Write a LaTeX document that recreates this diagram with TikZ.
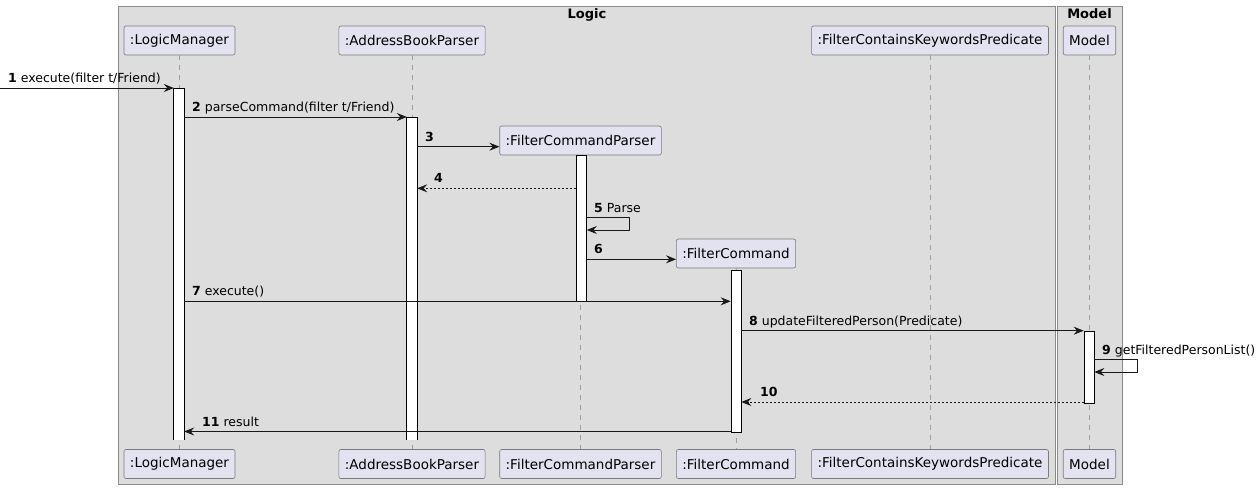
\documentclass[tikz,border=0pt]{standalone}
\usepackage{fontspec}
\setmainfont{DejaVu Sans}
\usetikzlibrary{arrows.meta}
\definecolor{partc}{HTML}{E2E2F0}
\definecolor{frmc}{HTML}{DDDDDD}
\definecolor{frmd}{HTML}{8A8A8A}
\definecolor{partd}{HTML}{7A7A7A}
\begin{document}
\begin{tikzpicture}[x=1pt,y=-1pt,
  part/.style={draw=partd, fill=partc, rounded corners=2pt, minimum height=29pt, inner xsep=6pt, font=\fontsize{13.5}{16}\selectfont, line width=0.6pt},
  frame/.style={draw=frmd, fill=frmc, line width=1pt},
  ftitle/.style={font=\bfseries\fontsize{13}{16}\selectfont, inner sep=0pt, anchor=base},
  act/.style={draw=black, fill=white, minimum width=10pt, inner sep=0pt, anchor=north, line width=0.7pt},
  openact/.style={fill=white, minimum width=10pt, inner sep=0pt, anchor=north},
  actside/.style={draw=black, line width=0.7pt},
  life/.style={draw=gray!75, dash pattern=on 5pt off 5pt, line width=0.6pt},
  msg/.style={-{Stealth[length=10pt,width=8pt,inset=3.5pt]}, line width=0.7pt, draw=black!90},
  ret/.style={msg, dash pattern=on 2pt off 2pt},
  lbl/.style={anchor=base west, font=\fontsize{12.5}{15}\selectfont, inner sep=0pt}
]
\useasboundingbox (0,0) rectangle (1260,489);
% frames
\draw[frame] (118.5,6.5) rectangle (1055,484);
\draw[frame] (1057.5,6.5) rectangle (1122,484);
\node[ftitle] (logicT) at (587,19) {Logic};
\node[ftitle] (modelT) at (1089.5,19) {Model};
% participants
\node[part] (lmT) at (179.5,40.5) {:LogicManager};
\node[part] (abT) at (412,40.5) {:AddressBookParser};
\node[part] (fkT) at (930,40.5) {:FilterContainsKeywordsPredicate};
\node[part] (mdT) at (1089.5,40.5) {Model};
\node[part] (fpT) at (580.5,140.5) {:FilterCommandParser};
\node[part] (fcT) at (736,253.5) {:FilterCommand};
\node[part] (lmB) at (179.5,464) {:LogicManager};
\node[part] (abB) at (412,464) {:AddressBookParser};
\node[part] (fpB) at (580.5,464) {:FilterCommandParser};
\node[part] (fcB) at (736,464) {:FilterCommand};
\node[part] (fkB) at (930,464) {:FilterContainsKeywordsPredicate};
\node[part] (mdB) at (1089.5,464) {Model};
% lifelines
\foreach \a/\b in {lmT/lmB, abT/abB, fkT/fkB, mdT/mdB, fpT/fpB, fcT/fcB}
  \draw[life] (\a) -- (\b);
% activations
\node[openact, minimum height=352pt] (lmA) at (179,88) {};
\draw[actside] (lmA.south west) -- (lmA.north west) -- (lmA.north east) -- (lmA.south east);
\node[openact, minimum height=323pt] (abA) at (412,117) {};
\draw[actside] (abA.south west) -- (abA.north west) -- (abA.north east) -- (abA.south east);
\node[act, minimum height=145pt] (fpA) at (581.5,155.5) {};
\node[act, minimum height=162pt] (fcA) at (736,269.5) {};
\node[act, minimum height=72pt] (mdA) at (1089,330.5) {};
% messages
\coordinate (start) at (0,88);
\draw[msg] (start) -- (lmA.west |- start);
\node[lbl] (l1) at (8,82.5) {\textbf{1} execute(filter t/Friend)};
\draw[msg] (lmA.east |- 0,117) -- (abA.west |- 0,117);
\node[lbl] (l2) at (192,111.5) {\textbf{2} parseCommand(filter t/Friend)};
\draw[msg] (abA.east |- 0,146.7) -- (fpT.west |- 0,146.7);
\node[lbl] (l3) at (425,141.2) {\textbf{3}};
\draw[ret] (fpA.west |- 0,188.3) -- (abA.east |- 0,188.3);
\node[lbl] (l4) at (434,182.8) {\textbf{4}};
\draw[msg] (fpA.east |- 0,217.3) -- ++(42,0) -- ++(0,12.7) -- (fpA.east |- 0,230);
\node[lbl] (l5) at (594,212) {\textbf{5} Parse};
\draw[msg] (fpA.east |- 0,259.3) -- (fcT.west |- 0,259.3);
\node[lbl] (l6) at (594,253.8) {\textbf{6}};
\draw[msg] (lmA.east |- 0,301.3) -- (fcA.west |- 0,301.3);
\node[lbl] (l7) at (192,295.8) {\textbf{7} execute()};
\draw[msg] (fcA.east |- 0,330.7) -- (mdA.west |- 0,330.7);
\node[lbl] (l8) at (749,325.2) {\textbf{8} updateFilteredPerson(Predicate)};
\draw[msg] (mdA.east |- 0,359.3) -- ++(42.5,0) -- ++(0,12.7) -- (mdA.east |- 0,372);
\node[lbl] (l9) at (1102,354) {\textbf{9} getFilteredPersonList()};
\draw[ret] (mdA.west |- 0,402) -- (fcA.east |- 0,402);
\node[lbl] (l10) at (760,396.5) {\textbf{10}};
\draw[msg] (fcA.west |- 0,431.5) -- (lmA.east |- 0,431.5);
\node[lbl] (l11) at (202,426) {\textbf{11} result};
\end{tikzpicture}
\end{document}
